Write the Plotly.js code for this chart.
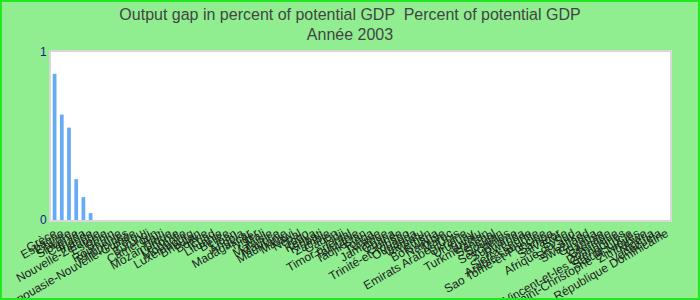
<!DOCTYPE html>
<html>
<head>
<meta charset="utf-8">
<script src="https://cdn.plot.ly/plotly-3.0.1.min.js"></script>
<style>
  html, body { margin: 0; padding: 0; background: #90ee90; }
  #chart { width: 700px; height: 300px; }
</style>
</head>
<body>
<div id="chart"></div>
<script>
const countries = [
  "Grèce", "Espagne", "Chypre", "Slovénie", "Canada", "Irlande", "Nouvelle-Zélande", "Estonie",
  "Bénin", "Roumanie", "Philippines", "Papouasie-Nouvelle-Guinée", "Pérou", "Burundi", "Cameroun",
  "Haïti", "Mozambique", "Lettonie", "Mongolie", "Luxembourg", "Bhoutan", "Bolivie", "Tchad",
  "Lituanie", "Belize", "Liban", "Angola", "Madagascar", "Niger", "Mali", "Malaisie", "Maurice",
  "Mauritanie", "Malawi", "Népal", "Togo", "Kenya", "Kiribati", "Zambie", "Gabon", "Fidji",
  "Timor oriental", "Tanzanie", "Tadjikistan", "Tonga", "Tunisie", "Jamaïque", "Ghana", "Guinée",
  "Trinité-et-Tobago", "Ouganda", "Vanuatu", "Yémen", "Botswana", "Namibie", "Maroc",
  "Emirats Arabes Unis", "Ukraine", "Uruguay", "Tuvalu", "Turkménistan", "Sénégal", "Soudan",
  "Seychelles", "Suriname", "Rwanda", "Sierra Leone", "Arabie saoudite", "Sao Tomé-et-Principe",
  "Samoa", "Salvador", "Syrie", "Afrique du Sud", "Sri Lanka", "Swaziland", "Guyana", "Gambie",
  "Grenade", "Dominique", "Saint-Vincent-et-les Grenadines", "Sainte-Lucie",
  "Saint-Christophe-et-Niévès", "Zimbabwe", "Nigeria", "Venezuela", "République Dominicaine"
];
const knownValues = [0.87, 0.627, 0.55, 0.243, 0.136, 0.041];
const gapValues = countries.map((c, i) => i < knownValues.length ? knownValues[i] : 0);
const yTicks = [0, 1];

const W = 700, H = 300, ML = 51, MR = 30, MT = 52, MB = 80;
const pw = W - ML - MR, ph = H - MT - MB;

Plotly.newPlot("chart", [{
  type: "bar",
  x: countries,
  y: gapValues,
  marker: { color: "#66abf3" },
  hoverinfo: "x+y"
}], {
  width: W,
  height: H,
  paper_bgcolor: "#90ee90",
  plot_bgcolor: "#ffffff",
  margin: { l: ML, r: MR, t: MT, b: MB },
  bargap: 0.48,
  title: {
    text: "Output gap in percent of potential GDP  Percent of potential GDP<br>Année 2003",
    font: { family: "Liberation Sans, Arial, sans-serif", size: 16, color: "#444444" },
    x: 0.5, xanchor: "center", yref: "container", y: 0.935, yanchor: "middle"
  },
  xaxis: {
    type: "category",
    tickmode: "array",
    tickvals: countries,
    ticktext: countries,
    tickangle: -30,
    tickfont: { family: "Liberation Sans, Arial, sans-serif", size: 12, color: "#222222" },
    showline: true, linecolor: "#d8d8d8", linewidth: 2, mirror: true,
    ticks: "", showgrid: false, automargin: false
  },
  yaxis: {
    range: [0, 1],
    tickvals: yTicks,
    ticktext: yTicks.map(String),
    tickfont: { family: "Liberation Sans, Arial, sans-serif", size: 12, color: "#1a1a8c" },
    showline: true, linecolor: "#d8d8d8", linewidth: 2, mirror: true,
    showgrid: false, zeroline: false, ticks: "", automargin: false
  },
  shapes: [{
    type: "rect", xref: "paper", yref: "paper",
    x0: -(ML - 1) / pw, x1: 1 + (MR - 1) / pw,
    y0: -(MB - 1) / ph, y1: 1 + (MT - 1) / ph,
    line: { color: "#22e822", width: 2 }, fillcolor: "rgba(0,0,0,0)", layer: "above"
  }],
  showlegend: false
}, { displayModeBar: false });
</script>
</body>
</html>
